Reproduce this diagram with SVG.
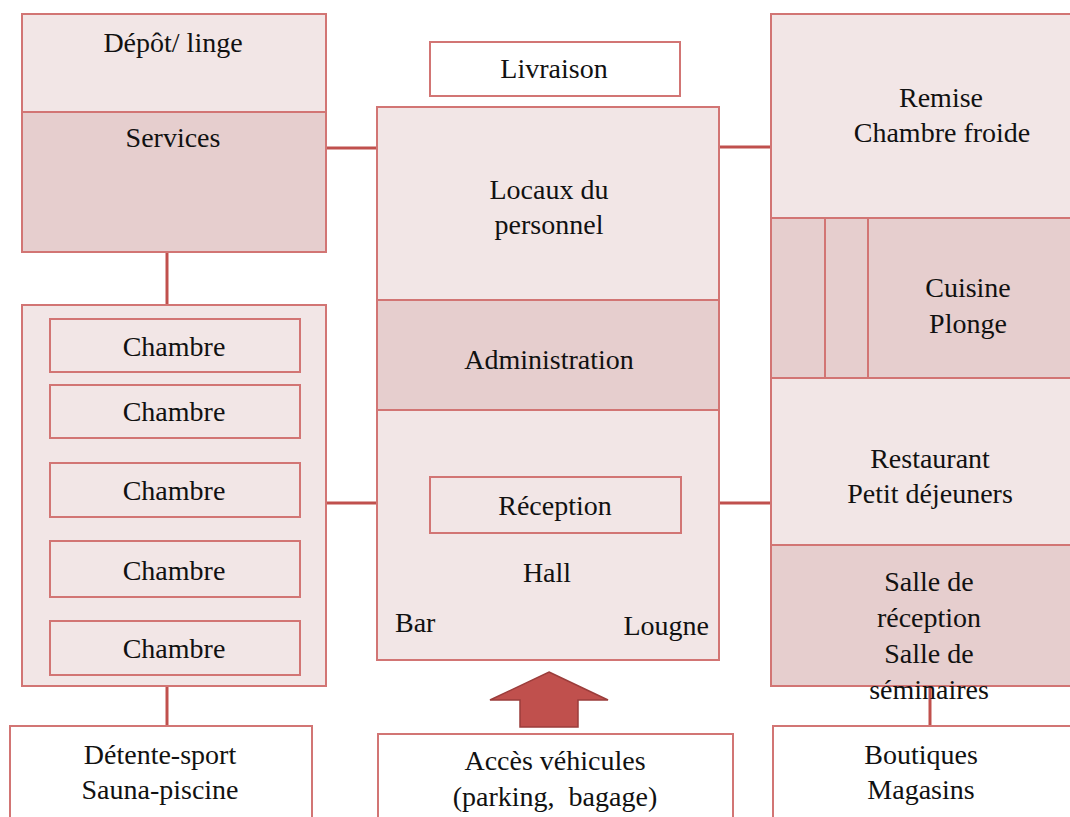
<svg xmlns="http://www.w3.org/2000/svg" width="1070" height="817" viewBox="0 0 1070 817">
  <style>
    .light { fill: #f2e6e6; stroke: #d27574; stroke-width: 2; }
    .dark { fill: #e6cece; stroke: #d27574; stroke-width: 2; }
    .plain { fill: #ffffff; stroke: #d27574; stroke-width: 2; }
    .div { fill: none; stroke: #d27574; stroke-width: 2; }
    .link { fill: none; stroke: #c0504d; stroke-width: 3; }
    text { font-family: 'Liberation Serif', Tinos, 'DejaVu Serif', serif; font-size: 28px; fill: #111; text-anchor: middle; }
  </style>
  <rect width="1070" height="817" fill="#ffffff"/>

  <!-- connectors -->
  <g id="connectors">
    <line class="link" x1="326" y1="148" x2="377" y2="148"/>
    <line class="link" x1="719" y1="147" x2="771" y2="147"/>
    <line class="link" x1="326" y1="503" x2="377" y2="503"/>
    <line class="link" x1="719" y1="503" x2="771" y2="503"/>
    <line class="link" x1="167" y1="252" x2="167" y2="305"/>
    <line class="link" x1="167" y1="686" x2="167" y2="726"/>
    <line class="link" x1="930" y1="686" x2="930" y2="726"/>
    <polygon points="549,672 608,700 578,700 578,727 520,727 520,700 490,700" fill="#c0504d" stroke="#9b3d3b" stroke-width="1.5"/>
  </g>

  <!-- left column -->
  <g id="depot">
    <rect class="light" x="22" y="14" width="304" height="98"/>
    <text x="173" y="52">Dépôt/ linge</text>
  </g>
  <g id="services">
    <rect class="dark" x="22" y="112" width="304" height="140"/>
    <text x="173" y="147">Services</text>
  </g>
  <g id="chambres">
    <rect class="light" x="22" y="305" width="304" height="381"/>
    <rect class="div" x="50" y="319" width="250" height="53"/>
    <text x="174" y="356">Chambre</text>
    <rect class="div" x="50" y="385" width="250" height="53"/>
    <text x="174" y="421">Chambre</text>
    <rect class="div" x="50" y="463" width="250" height="54"/>
    <text x="174" y="500">Chambre</text>
    <rect class="div" x="50" y="541" width="250" height="56"/>
    <text x="174" y="580">Chambre</text>
    <rect class="div" x="50" y="621" width="250" height="54"/>
    <text x="174" y="658">Chambre</text>
  </g>
  <g id="detente">
    <rect class="plain" x="10" y="726" width="302" height="100"/>
    <text x="160" y="764">Détente-sport</text>
    <text x="160" y="799">Sauna-piscine</text>
  </g>

  <!-- central block -->
  <g id="livraison">
    <rect class="plain" x="430" y="42" width="250" height="54"/>
    <text x="554" y="78">Livraison</text>
  </g>
  <g id="locaux">
    <rect class="light" x="377" y="107" width="342" height="193"/>
    <text x="549" y="199">Locaux du</text>
    <text x="549" y="234">personnel</text>
  </g>
  <g id="administration">
    <rect class="dark" x="377" y="300" width="342" height="110"/>
    <text x="549" y="369">Administration</text>
  </g>
  <g id="hall">
    <rect class="light" x="377" y="410" width="342" height="250"/>
    <rect class="div" x="430" y="477" width="251" height="56"/>
    <text x="555" y="515">Réception</text>
    <text x="547" y="582">Hall</text>
    <text x="395" y="632" style="text-anchor:start">Bar</text>
    <text x="709" y="635" style="text-anchor:end">Lougne</text>
  </g>
  <g id="acces">
    <rect class="plain" x="378" y="734" width="355" height="100"/>
    <text x="555" y="770">Accès véhicules</text>
    <text x="555" y="806" xml:space="preserve">(parking,  bagage)</text>
  </g>

  <!-- right column -->
  <g id="remise">
    <rect class="light" x="771" y="14" width="310" height="204"/>
    <text x="941" y="107">Remise</text>
    <text x="942" y="142">Chambre froide</text>
  </g>
  <g id="cuisine">
    <rect class="dark" x="771" y="218" width="310" height="160"/>
    <line class="div" x1="825" y1="218" x2="825" y2="378"/>
    <line class="div" x1="868" y1="218" x2="868" y2="378"/>
    <text x="968" y="297">Cuisine</text>
    <text x="968" y="333">Plonge</text>
  </g>
  <g id="restaurant">
    <rect class="light" x="771" y="378" width="310" height="167"/>
    <text x="930" y="468">Restaurant</text>
    <text x="930" y="503">Petit déjeuners</text>
  </g>
  <g id="salles">
    <rect class="dark" x="771" y="545" width="310" height="141"/>
    <text x="929" y="591">Salle de</text>
    <text x="929" y="627">réception</text>
    <text x="929" y="663">Salle de</text>
    <text x="929" y="699">séminaires</text>
  </g>
  <g id="boutiques">
    <rect class="plain" x="773" y="726" width="310" height="100"/>
    <text x="921" y="764">Boutiques</text>
    <text x="921" y="799">Magasins</text>
  </g>
</svg>
